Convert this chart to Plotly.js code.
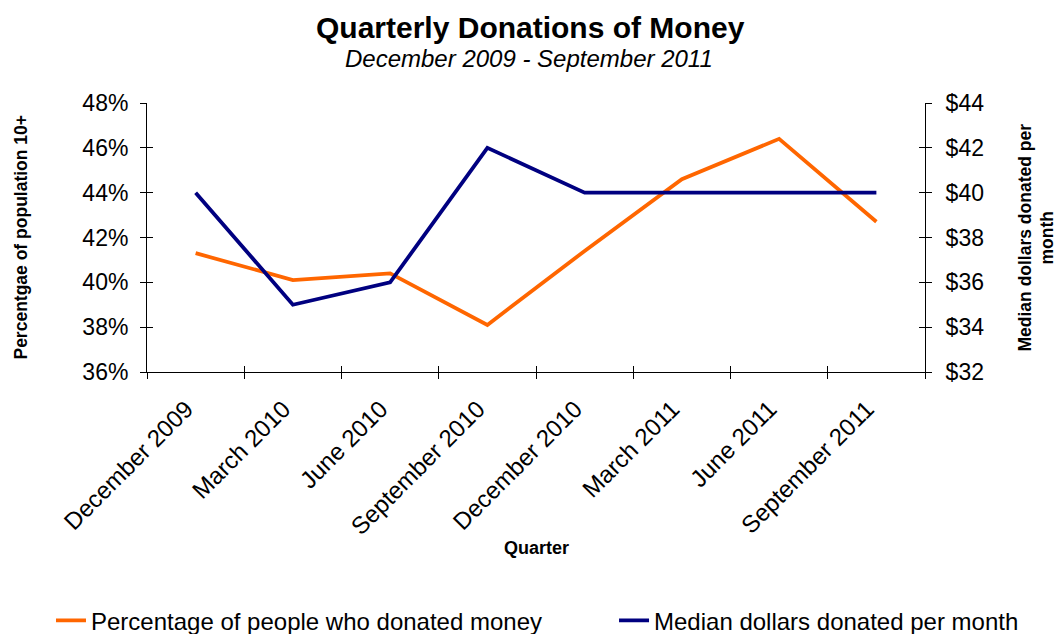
<!DOCTYPE html>
<html>
<head>
<meta charset="utf-8">
<script src="https://cdn.plot.ly/plotly-3.0.1.min.js"></script>
<style>html,body{margin:0;padding:0;background:#fff;}#chart{width:1057px;height:634px;}</style>
</head>
<body>
<div id="chart"></div>
<script>
const quarters = ["December 2009","March 2010","June 2010","September 2010","December 2010","March 2011","June 2011","September 2011"];
const pctDonated = [41.3, 40.1, 40.4, 38.1, 41.4, 44.6, 46.4, 42.7];
const medianDollars = [40, 35, 36, 42, 40, 40, 40, 40];

const FONT = "Liberation Sans, Arial, sans-serif";

const traces = [
  {x: quarters, y: pctDonated, type: "scatter", mode: "lines", name: "Percentage of people who donated money",
   line: {color: "#FF6600", width: 3.8}, xaxis: "x", yaxis: "y", legend: "legend"},
  {x: quarters, y: medianDollars, type: "scatter", mode: "lines", name: "Median dollars donated per month",
   line: {color: "#000080", width: 3.8}, xaxis: "x", yaxis: "y2", legend: "legend2"}
];

const legendFont = {family: FONT, size: 24, color: "#000"};

const layout = {
  width: 1057, height: 634,
  margin: {l: 147, r: 132, t: 103, b: 262, autoexpand: false},
  paper_bgcolor: "#fff", plot_bgcolor: "#fff",
  font: {family: FONT, color: "#000"},
  showlegend: true,
  legend: {orientation: "h", x: -0.1234, xanchor: "left", y: -0.925, yanchor: "middle", font: legendFont,
    bgcolor: "rgba(0,0,0,0)"},
  legend2: {orientation: "h", x: 0.6003, xanchor: "left", y: -0.925, yanchor: "middle", font: legendFont,
    bgcolor: "rgba(0,0,0,0)"},
  xaxis: {type: "category", categoryorder: "array", categoryarray: quarters, range: [-0.5, 7.5], automargin: false,
    tickmode: "array", tickvals: quarters, ticktext: quarters.map(q => q + "\u00a0\u00a0"),
    tickson: "boundaries", ticks: "outside", ticklen: 6, tickcolor: "#000", tickwidth: 1,
    showline: true, linecolor: "#000", linewidth: 1, showgrid: false, zeroline: false, ticklabelstandoff: 3,
    tickangle: -45, tickfont: {family: FONT, size: 24, color: "#000"}},
  xaxis2: {overlaying: "x", range: [-0.5, 7.5], tick0: -0.5, dtick: 1, ticks: "inside", ticklen: 6, automargin: false,
    tickcolor: "#000", showticklabels: false, showgrid: false, zeroline: false, showline: false},
  yaxis: {range: [36, 48], dtick: 2, ticksuffix: "%", ticks: "outside", ticklen: 6, tickcolor: "#000", automargin: false,
    showline: true, linecolor: "#000", linewidth: 1, showgrid: false, zeroline: false, ticklabelstandoff: 7,
    tickfont: {family: FONT, size: 23, color: "#000"}},
  yaxis3: {overlaying: "y", range: [36, 48], dtick: 2, ticks: "inside", ticklen: 6, tickcolor: "#000", automargin: false,
    showticklabels: false, showgrid: false, zeroline: false, showline: false},
  yaxis2: {overlaying: "y", side: "right", range: [32, 44], dtick: 2, tickprefix: "$", ticks: "outside", ticklen: 6, automargin: false,
    tickcolor: "#000", showline: true, linecolor: "#000", linewidth: 1, showgrid: false, zeroline: false, ticklabelstandoff: 9,
    tickfont: {family: FONT, size: 23, color: "#000"}},
  yaxis4: {overlaying: "y", side: "right", range: [32, 44], dtick: 2, ticks: "inside", ticklen: 6, tickcolor: "#000", automargin: false,
    showticklabels: false, showgrid: false, zeroline: false, showline: false},
  annotations: [
    {text: "<b>Quarterly Donations of Money</b>", xref: "paper", yref: "paper", x: 0.5, y: 1, xanchor: "center",
     xshift: -6, yshift: 76, yanchor: "middle", showarrow: false, font: {family: FONT, size: 30, color: "#000"}},
    {text: "<i>December 2009 - September 2011</i>", xref: "paper", yref: "paper", x: 0.5, y: 1, xanchor: "center",
     xshift: -7, yshift: 45, yanchor: "middle", showarrow: false, font: {family: FONT, size: 24, color: "#000"}},
    {text: "<b>Quarter</b>", xref: "paper", yref: "paper", x: 0.5, y: 0, xanchor: "center", yanchor: "middle",
     yshift: -176, showarrow: false, font: {family: FONT, size: 18, color: "#000"}},
    {text: "<b>Percentgae of population 10+</b>", xref: "paper", yref: "paper", x: -0.1632, y: 0.5, xanchor: "center", yanchor: "middle",
     textangle: -90, showarrow: false, font: {family: FONT, size: 17.5, color: "#000"}},
    {text: "<b>Median dollars donated per<br>month</b>", xref: "paper", yref: "paper", x: 1.1427, y: 0.5, xanchor: "center", yanchor: "middle",
     textangle: -90, showarrow: false, font: {family: FONT, size: 17.5, color: "#000"}}
  ]
};

// empty traces that switch on the overlay axes which draw the inner half of the crossing ticks
traces.push({x: [0], y: [null], xaxis: "x2", yaxis: "y3", type: "scatter", showlegend: false, hoverinfo: "skip"});
traces.push({x: [0], y: [null], xaxis: "x2", yaxis: "y4", type: "scatter", showlegend: false, hoverinfo: "skip"});

Plotly.newPlot("chart", traces, layout, {displayModeBar: false, staticPlot: true});
</script>
</body>
</html>
